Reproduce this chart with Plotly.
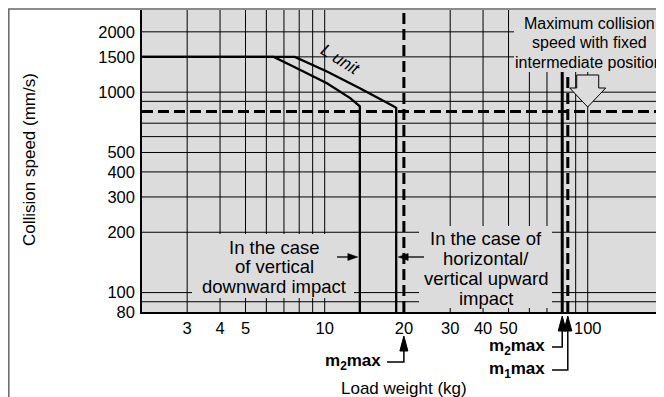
import math
import plotly.graph_objects as go

# axis ranges / ticks
x_range = [2.02, 195]
y_range = [80, 2570]
x_tick_vals = [3, 4, 5, 10, 20, 30, 40, 50, 100]
y_tick_vals = [80, 100, 200, 300, 400, 500, 1000, 1500, 2000]
x_grid = [3, 4, 5, 6, 7, 8, 9, 10, 30, 40, 50, 60, 70, 80, 90, 100]
y_grid = [90, 100, 200, 300, 400, 500, 600, 700, 900, 1000, 1500, 2000]

# limit curves (kg, mm/s)
down_x = [2.02, 6.4, 7.6, 10.2, 12.5, 13.6, 13.6]
down_y = [1500, 1500, 1343, 1107, 934, 850, 80]
lunit_x = [2.02, 7.7, 10.2, 13.6, 18.2, 18.7, 18.7]
lunit_y = [1500, 1500, 1268, 1047, 853, 835, 80]

speed_fixed = 800      # max collision speed, fixed intermediate position
m2max_a = 20
m2max_b = 80
m1max_b = 84
fixed_arrow_x = 100

down_label = ["In the case", "of vertical", "downward impact"]
up_label = ["In the case of", "horizontal/", "vertical upward", "impact"]
fixed_label = ["Maximum collision", "speed with fixed", "intermediate position"]

BG = "#dcdcdc"
FONT = "Liberation Sans, Arial, sans-serif"

# the page body adds an 8px margin, so the figure is drawn 8px in
OFF = 8
FW, FH = 664 - OFF, 397 - OFF
# plot area in page pixels
L, T, W, H = 142, 10, 522, 302
lx0, lx1 = math.log10(x_range[0]), math.log10(x_range[1])
ly0, ly1 = math.log10(y_range[0]), math.log10(y_range[1])

def px(x):  # page pixel -> paper
    return (x - L) / W

def py(y):
    return (T + H - y) / H

def xd(v):  # data -> paper
    return (math.log10(v) - lx0) / (lx1 - lx0)

def xd_px(v):
    return L + xd(v) * W

def poly(pts, close=True):
    s = "M " + " L ".join(f"{px(a):.5f},{py(b):.5f}" for a, b in pts)
    return s + (" Z" if close else "")

fig = go.Figure()

# grid
gx, gy = [], []
for v in x_grid:
    gx += [v, v, None]
    gy += [y_range[0], y_range[1], None]
for v in y_grid:
    gx += [x_range[0], x_range[1], None]
    gy += [v, v, None]
fig.add_trace(go.Scatter(x=gx, y=gy, mode="lines", line=dict(color="black", width=1),
                         hoverinfo="skip", showlegend=False))

fig.add_trace(go.Scatter(x=down_x, y=down_y, mode="lines", line=dict(color="black", width=2.3),
                         showlegend=False))
fig.add_trace(go.Scatter(x=lunit_x, y=lunit_y, mode="lines", line=dict(color="black", width=2.3),
                         showlegend=False))

dash = "11px,5px"
fig.add_trace(go.Scatter(x=[x_range[0], x_range[1]], y=[speed_fixed, speed_fixed], mode="lines",
                         line=dict(color="black", width=3, dash=dash), showlegend=False))
fig.add_trace(go.Scatter(x=[m2max_a, m2max_a], y=y_range, mode="lines",
                         line=dict(color="black", width=3, dash=dash), showlegend=False))
fig.add_trace(go.Scatter(x=[m2max_b, m2max_b], y=y_range, mode="lines",
                         line=dict(color="black", width=3), showlegend=False))
fig.add_trace(go.Scatter(x=[m1max_b, m1max_b], y=y_range, mode="lines",
                         line=dict(color="black", width=3, dash=dash), showlegend=False))

shapes = []
annotations = []

def rect(x0, y0, x1, y1):
    shapes.append(dict(type="rect", xref="paper", yref="paper", x0=px(x0), x1=px(x1),
                       y0=py(y1), y1=py(y0), fillcolor=BG, line=dict(width=0), layer="above"))

def text_lines(lines, cx, cy0, step, size):
    for i, s in enumerate(lines):
        annotations.append(dict(xref="paper", yref="paper", x=px(cx), y=py(cy0 + i * step),
                                text=s, showarrow=False, xanchor="center", yanchor="middle",
                                font=dict(family=FONT, size=size, color="black")))

# label boxes
rect(192, 234, 354, 298)
text_lines(down_label, 274, 247, 19.5, 18.5)
rect(419, 226, 552, 308)
text_lines(up_label, 486, 238, 20, 18.5)
rect(514, 10, 680, 72)
text_lines(fixed_label, 589, 23, 19.5, 16)

# block arrow pointing at the fixed-position speed line
cx = xd_px(fixed_arrow_x)
tip = 107
pts = [(cx - 11, 75), (cx + 11, 75), (cx + 11, 88), (cx + 18, 88), (cx, tip),
       (cx - 18, 88), (cx - 11, 88)]
shapes.append(dict(type="path", xref="paper", yref="paper", path=poly(pts), fillcolor=BG,
                   line=dict(color="black", width=1), layer="above"))

def h_arrow(tip_x, tail_x, y):
    d = 1 if tail_x < tip_x else -1
    shapes.append(dict(type="path", xref="paper", yref="paper",
                       path=poly([(tail_x, y), (tip_x - d * 6, y)], close=False),
                       line=dict(color="black", width=1.3), layer="above"))
    shapes.append(dict(type="path", xref="paper", yref="paper",
                       path=poly([(tip_x, y), (tip_x - d * 10, y - 3.5), (tip_x - d * 10, y + 3.5)]),
                       fillcolor="black", line=dict(color="black", width=0.5), layer="above"))

# small arrows to the curves
h_arrow(xd_px(down_x[-1]) - 2, 337, 257)
h_arrow(xd_px(lunit_x[-1]) + 2, 424, 257)

# m2max / m1max markers under the axis
def up_arrow(xv, tip_y, corner_y, text_right):
    xp_ = xd_px(xv)
    tri = [(xp_, tip_y), (xp_ + 4, tip_y + 15), (xp_ - 4, tip_y + 15)]
    shapes.append(dict(type="path", xref="paper", yref="paper", path=poly(tri),
                       fillcolor="black", line=dict(color="black", width=1), layer="above"))
    line = [(text_right, corner_y), (xp_, corner_y), (xp_, tip_y + 10)]
    shapes.append(dict(type="path", xref="paper", yref="paper", path=poly(line, close=False),
                       line=dict(color="black", width=1.5), layer="above"))

up_arrow(m2max_a, 336, 362, 387)
up_arrow(m2max_b, 316, 347, 552)
up_arrow(m1max_b, 316, 370, 552)

for s, xr, yc in [("m<sub>2</sub>max", 383, 362), ("m<sub>2</sub>max", 547, 347),
                  ("m<sub>1</sub>max", 547, 370)]:
    annotations.append(dict(xref="paper", yref="paper", x=px(xr), y=py(yc), text=f"<b>{s}</b>",
                            showarrow=False, xanchor="right", yanchor="middle",
                            font=dict(family=FONT, size=17, color="black")))

# L unit label
annotations.append(dict(xref="paper", yref="paper", x=px(340), y=py(60), text="<i>L unit</i>",
                        showarrow=False, textangle=32, xanchor="center", yanchor="middle",
                        font=dict(family=FONT, size=17, color="black")))

# axis titles
annotations.append(dict(xref="paper", yref="paper", x=px(404), y=py(388), text="Load weight (kg)",
                        showarrow=False, xanchor="center", yanchor="middle",
                        font=dict(family=FONT, size=17, color="black")))
annotations.append(dict(xref="paper", yref="paper", x=px(29), y=py(160),
                        text="Collision speed (mm/s)", textangle=-90, showarrow=False,
                        xanchor="center", yanchor="middle",
                        font=dict(family=FONT, size=17, color="black")))

# outer frame
shapes.append(dict(type="rect", xref="paper", yref="paper", x0=px(8.8), y0=py(9), x1=px(720),
                   y1=py(520), line=dict(color="#666666", width=1.5), layer="above"))

fig.update_layout(
    width=FW, height=FH,
    margin=dict(l=L - OFF, r=664 - L - W, t=T - OFF, b=397 - T - H),
    paper_bgcolor="white", plot_bgcolor=BG,
    shapes=shapes, annotations=annotations,
    xaxis=dict(type="log", range=[lx0, lx1], tickvals=x_tick_vals,
               ticktext=[str(v) for v in x_tick_vals], showgrid=False, zeroline=False,
               showline=True, linecolor="black", linewidth=1.5, ticks="",
               ticklabelstandoff=0, tickfont=dict(family=FONT, size=16.5, color="black")),
    yaxis=dict(type="log", range=[ly0, ly1], tickvals=y_tick_vals,
               ticktext=[str(v) for v in y_tick_vals], showgrid=False, zeroline=False,
               showline=True, linecolor="black", linewidth=1.5, ticks="",
               ticklabelstandoff=2, tickfont=dict(family=FONT, size=16.5, color="black")),
)

fig.write_html("out.html")
